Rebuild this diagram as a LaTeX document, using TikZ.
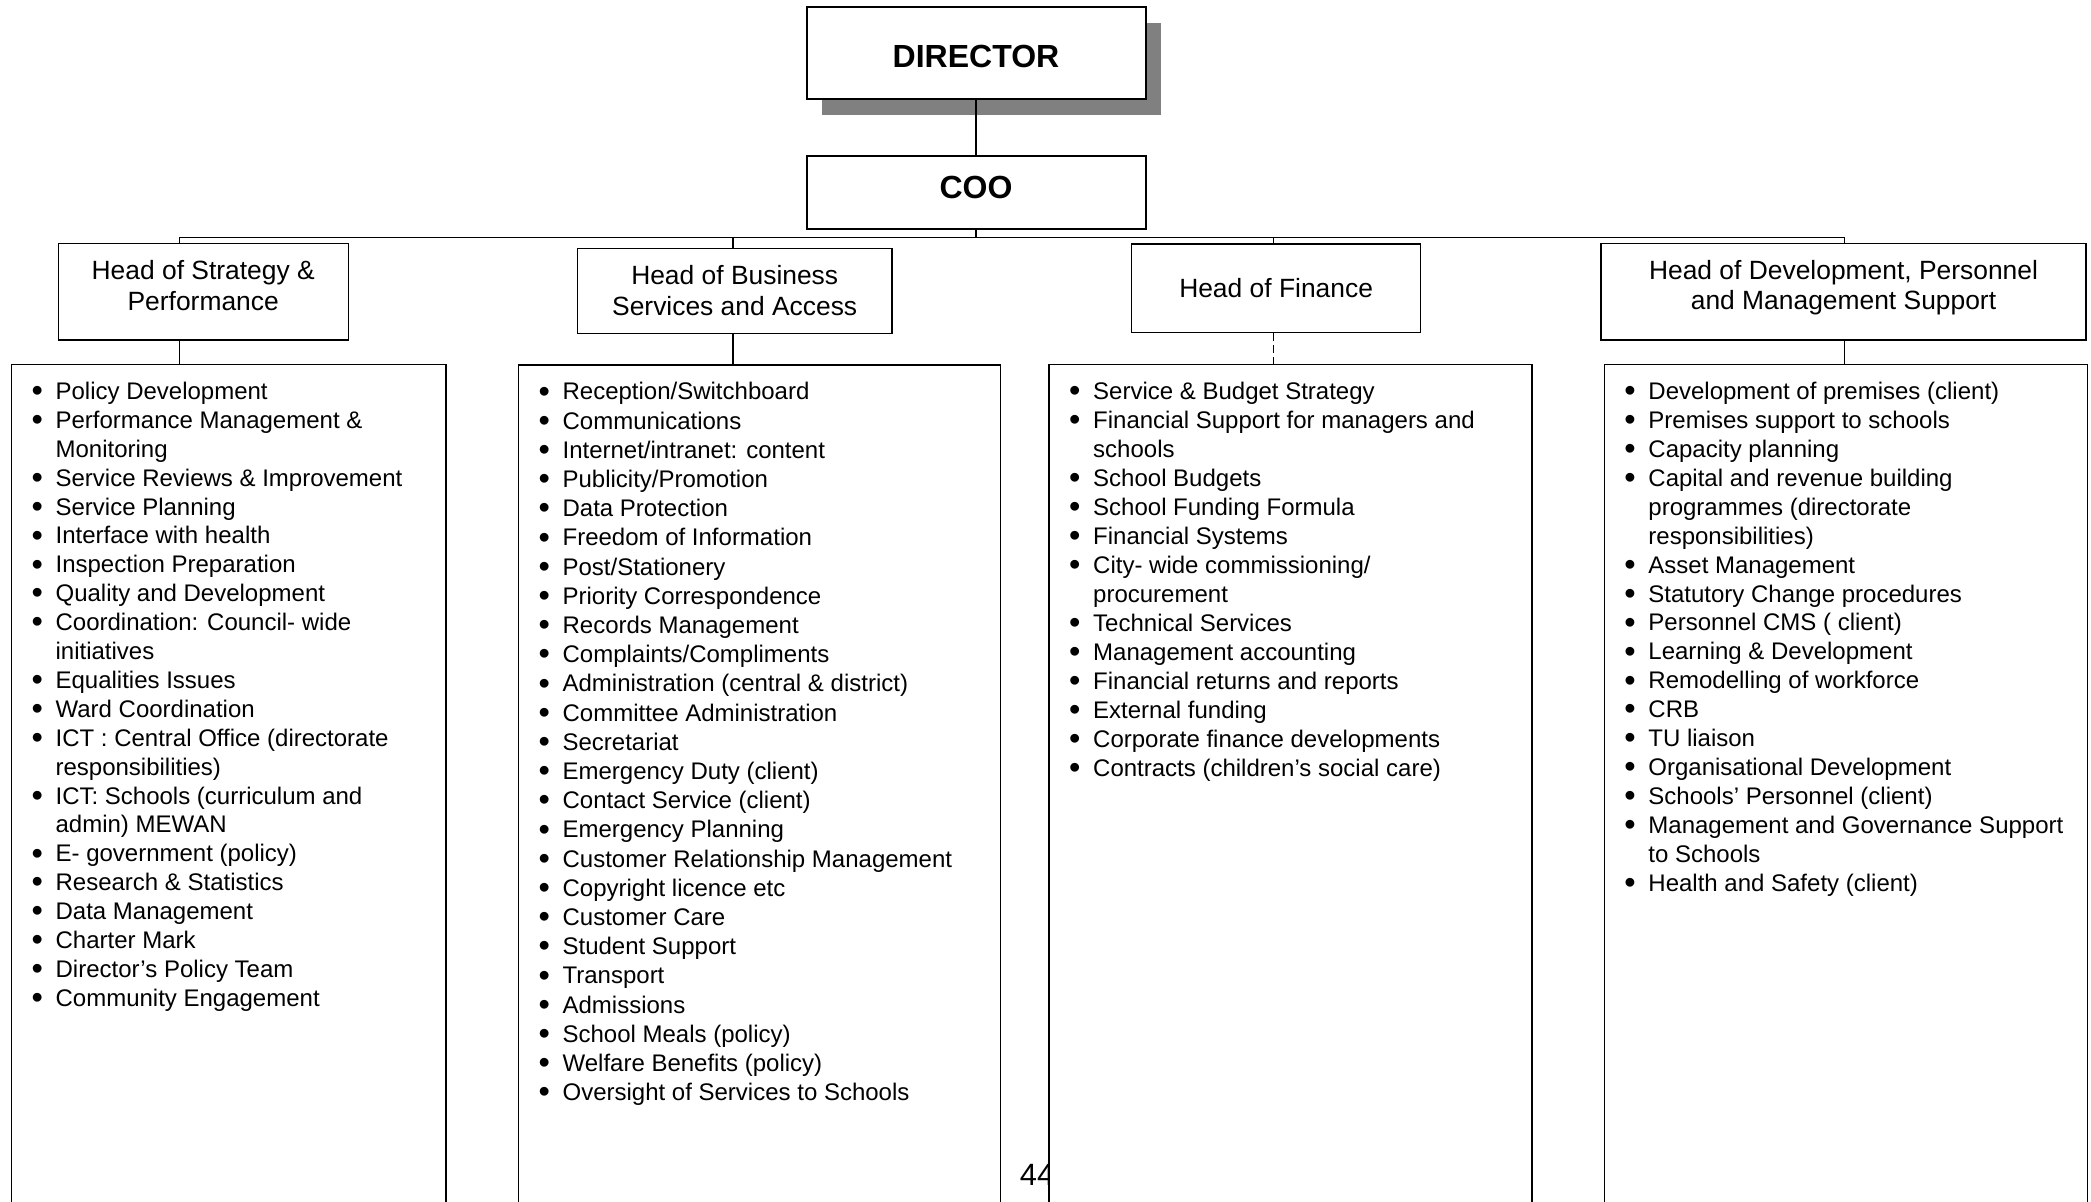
\documentclass[tikz,border=0pt]{standalone}
\usepackage{fontspec}
\setmainfont{Liberation Sans}
\usetikzlibrary{shadows}

\definecolor{shadowgray}{HTML}{808080}

\tikzset{
  headbox/.style={draw, line width=0.7pt, fill=white, align=center, inner sep=0pt,
    font=\fontsize{13.2}{15.3}\selectfont},
  topbox/.style={headbox, line width=1pt, font=\fontsize{16}{19}\selectfont\bfseries},
  dutybox/.style={draw, line width=0.6pt, fill=white, anchor=north west,
    minimum height=450pt, inner sep=0pt},
  dutylist/.style={anchor=north west, inner sep=0pt},
  link/.style={line width=0.6pt},
}

% text moved up or down inside its box
\newcommand{\nudge}[2]{\raisebox{#1}[\height][\depth]{\begin{tabular}{@{}c@{}}#2\end{tabular}}}
% list with bullets, optional leading
\newcommand{\bulletmark}{\hspace*{-0.7pt}\raisebox{-1.1pt}{\scalebox{1.35}{\textbullet}}}
\newcommand{\itemrows}[2][14.45]{\fontsize{12}{#1}\selectfont
  \begin{tabular}{@{}p{11.35pt}@{}l@{}}#2\end{tabular}}
\newcommand{\bul}{\bulletmark &}

\begin{document}
\begin{tikzpicture}[x=0.5pt, y=-0.5pt]
    \useasboundingbox (0,0) rectangle (2091,1202);
    \clip (0,0) rectangle (2091,1202);

    % page number (partly hidden by the boxes)
    \node[anchor=base, font=\fontsize{15.4}{18}\selectfont] (pagenum) at (1037,1185) {44};

    % Director and COO
    \node[topbox, minimum width=169.5pt, minimum height=45.85pt,
      drop shadow={shadow xshift=7.5pt, shadow yshift=-8pt, fill=shadowgray, opacity=1}]
      (dir) at (976,53.2) {\nudge{-3.3pt}{DIRECTOR}};
    \node[topbox, minimum width=169.5pt, minimum height=36.65pt] (coo) at (976,192.7)
      {\nudge{0.7pt}{COO}};

    % bus line
    \coordinate (busL) at (179.6,237.3);
    \coordinate (busR) at (1844.5,237.3);
    \coordinate (tapB) at (733,237.3);
    \coordinate (tapF) at (1273.5,237.3);

    % heads
    \node[headbox, minimum width=145pt, minimum height=48.35pt] (strat) at (203.2,291.7)
      {\nudge{1.5pt}{Head of Strategy \&\\Performance}};
    \node[headbox, minimum width=157.15pt, minimum height=42.5pt] (busi) at (734.7,290.8)
      {Head of Business\\Services and Access};
    \node[headbox, minimum width=144.4pt, minimum height=44.35pt] (fin) at (1276.1,288.4)
      {Head of Finance};
    \node[headbox, minimum width=242.5pt, minimum height=48.35pt] (dev) at (1843.5,291.7)
      {\nudge{1.7pt}{Head of Development, Personnel\\and Management Support}};

    % duty boxes
    \node[dutybox, minimum width=217.35pt] (dutyA) at (10.7,364) {};
    \node[dutybox, minimum width=241.15pt] (dutyB) at (517.7,364.5) {};
    \node[dutybox, minimum width=241.5pt] (dutyC) at (1048.3,364) {};
    \node[dutybox, minimum width=241.5pt] (dutyD) at (1603.5,364) {};

    % Strategy & Performance
    \node[dutylist] (listA) at ([xshift=10.9pt, yshift=-7.4pt]dutyA.north west) {\itemrows[14.45]{
      \bul Policy Development\\
      \bul Performance Management \&\\ & Monitoring\\
      \bul Service Reviews \& Improvement\\
      \bul Service Planning\\
      \bul Interface with health\\
      \bul Inspection Preparation\\
      \bul Quality and Development\\
      \bul Coordination: Council- wide\\ & initiatives\\
      \bul Equalities Issues\\
      \bul Ward Coordination\\
      \bul ICT : Central Office (directorate\\ & responsibilities)\\
      \bul ICT: Schools (curriculum and\\ & admin) MEWAN\\
      \bul E- government (policy)\\
      \bul Research \& Statistics\\
      \bul Data Management\\
      \bul Charter Mark\\
      \bul Director’s Policy Team\\
      \bul Community Engagement}};

    % Business Services and Access
    \node[dutylist] (listB) at ([xshift=10.9pt, yshift=-7.3pt]dutyB.north west) {\itemrows[14.6]{
      \bul Reception/Switchboard\\
      \bul Communications\\
      \bul Internet/intranet: content\\
      \bul Publicity/Promotion\\
      \bul Data Protection\\
      \bul Freedom of Information\\
      \bul Post/Stationery\\
      \bul Priority Correspondence\\
      \bul Records Management\\
      \bul Complaints/Compliments\\
      \bul Administration (central \& district)\\
      \bul Committee Administration\\
      \bul Secretariat\\
      \bul Emergency Duty (client)\\
      \bul Contact Service (client)\\
      \bul Emergency Planning\\
      \bul Customer Relationship Management\\
      \bul Copyright licence etc\\
      \bul Customer Care\\
      \bul Student Support\\
      \bul Transport\\
      \bul Admissions\\
      \bul School Meals (policy)\\
      \bul Welfare Benefits (policy)\\
      \bul Oversight of Services to Schools}};

    % Finance
    \node[dutylist] (listC) at ([xshift=10.9pt, yshift=-7.35pt]dutyC.north west) {\itemrows[14.5]{
      \bul Service \& Budget Strategy\\
      \bul Financial Support for managers and\\ & schools\\
      \bul School Budgets\\
      \bul School Funding Formula\\
      \bul Financial Systems\\
      \bul City- wide commissioning/\\ & procurement\\
      \bul Technical Services\\
      \bul Management accounting\\
      \bul Financial returns and reports\\
      \bul External funding\\
      \bul Corporate finance developments\\
      \bul Contracts (children’s social care)}};

    % Development, Personnel and Management Support
    \node[dutylist] (listD) at ([xshift=10.9pt, yshift=-7.4pt]dutyD.north west) {\itemrows[14.47]{
      \bul Development of premises (client)\\
      \bul Premises support to schools\\
      \bul Capacity planning\\
      \bul Capital and revenue building\\ & programmes (directorate\\ & responsibilities)\\
      \bul Asset Management\\
      \bul Statutory Change procedures\\
      \bul Personnel CMS ( client)\\
      \bul Learning \& Development\\
      \bul Remodelling of workforce\\
      \bul CRB\\
      \bul TU liaison\\
      \bul Organisational Development\\
      \bul Schools’ Personnel (client)\\
      \bul Management and Governance Support\\ & to Schools\\
      \bul Health and Safety (client)}};

    % connectors
    \draw[link] (dir.south) -- (coo.north);
    \draw[link] (coo.south) -- (coo.south |- busL);
    \draw[link] (busL) -- (busR);
    \draw[link] (busL) -- (busL |- strat.north);
    \draw[link] (tapB) -- (tapB |- busi.north);
    \draw[link] (tapF) -- (tapF |- fin.north);
    \draw[link] (busR) -- (busR |- dev.north);
    \draw[link] (strat.south -| busL) -- (busL |- dutyA.north);
    \draw[link] (busi.south -| tapB) -- (tapB |- dutyB.north);
    \draw[link, dash pattern=on 4pt off 2pt] (fin.south -| tapF) -- (tapF |- dutyC.north);
    \draw[link] (dev.south -| busR) -- (busR |- dutyD.north);
\end{tikzpicture}
\end{document}
